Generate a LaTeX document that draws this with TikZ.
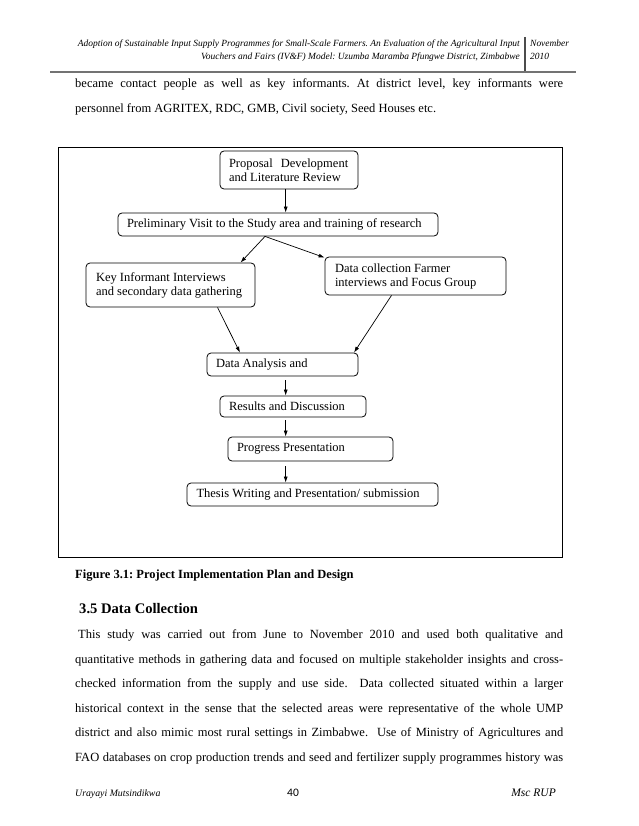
\documentclass[tikz,border=0pt]{standalone}
\usepackage{fontspec}
\setmainfont{Liberation Serif}
\newfontfamily\carl{Carlito}
\usetikzlibrary{arrows.meta}
\frenchspacing
\newcommand\bodyfs{\fontsize{12.5pt}{14pt}\selectfont}
\newcommand\hdfs{\fontsize{9.45pt}{11.5pt}\selectfont\itshape}
\newcommand\lb[2]{\makebox[#1][l]{#2}}
\newcommand\jl[1]{\makebox[488pt][s]{#1}}
\begin{document}
\begin{tikzpicture}[x=1pt,y=-1pt,
  fbox/.style={draw, rounded corners=4pt, line width=0.8pt, font=\bodyfs, align=left, inner ysep=0pt, anchor=center},
  arr/.style={-{Latex[length=6pt,width=4pt]}, line width=0.7pt},
  txt/.style={anchor=base west, inner sep=0pt, font=\bodyfs},
  hd/.style={inner sep=0pt, font=\hdfs}]
\useasboundingbox (0,0) rectangle (638,826);
\fill[white] (0,0) rectangle (638,826);
% header
\node[hd, anchor=base east] (h1) at (520,47) {Adoption of Sustainable Input Supply Programmes for Small-Scale Farmers. An Evaluation of the Agricultural Input};
\node[hd, anchor=base east] (h2) at (520,59.5) {Vouchers and Fairs (IV\&F) Model: Uzumba Maramba Pfungwe District, Zimbabwe};
\node[hd, anchor=base west] (h3) at (530,47) {November};
\node[hd, anchor=base west] (h4) at (530,59.5) {2010};
\draw[black!70, line width=1.2pt] (525,37) -- (525,73);
\draw[black!55, line width=2pt] (50,72) -- (576,72);
% body top
\node[txt] (t1) at (75,88) {\jl{became contact people as well as key informants. At district level, key informants were}};
\node[txt] (t2) at (75,112.5) {personnel from AGRITEX, RDC, GMB, Civil society, Seed Houses etc.};
% figure frame
\draw[line width=1.1pt] (58.3,147.3) rectangle (562.3,557.3);
% boxes
\node[fbox, minimum width=138pt, minimum height=38pt, inner xsep=9pt] (prop) at (289,170) {\lb{120pt}{Proposal\hspace{5pt} Development}\\\lb{120pt}{and Literature Review}};
\node[fbox, minimum width=320pt, minimum height=23pt, inner xsep=9pt] (prel) at (278,224.5) {\lb{302pt}{Preliminary Visit to the Study area and training of research}};
\node[fbox, minimum width=169pt, minimum height=44pt, inner xsep=10pt] (key) at (170.5,285) {\lb{149pt}{Key Informant Interviews}\\\lb{149pt}{and secondary data gathering}};
\node[fbox, minimum width=181pt, minimum height=38pt, inner xsep=10pt] (dc) at (415.5,276) {\lb{161pt}{Data collection Farmer}\\\lb{161pt}{interviews and Focus Group}};
\node[fbox, minimum width=151pt, minimum height=23pt, inner xsep=9pt] (da) at (282.5,364.5) {\lb{133pt}{Data Analysis and}};
\node[fbox, minimum width=146pt, minimum height=21pt, inner xsep=9pt] (res) at (293,406.5) {\lb{128pt}{Results and Discussion}};
\node[fbox, minimum width=165pt, minimum height=24pt, inner xsep=9pt] (prog) at (310.5,449) {\lb{147pt}{Progress Presentation}};
\node[fbox, minimum width=251pt, minimum height=23pt, inner xsep=9.5pt] (thes) at (312.5,494.5) {\lb{232pt}{Thesis Writing and Presentation/ submission}};
% arrows
\draw[arr] ([xshift=-3.3pt]prop.south) -- ([xshift=7.7pt]prel.north);
\draw[arr] ([xshift=-13pt]prel.south) -- ([xshift=70pt]key.north);
\draw[arr] ([xshift=-13pt]prel.south) -- ([yshift=-1pt]dc.north west);
\draw[arr] ([xshift=47pt]key.south) -- ([xshift=-42.5pt]da.north);
\draw[arr] ([xshift=-24pt]dc.south) -- ([xshift=71.5pt]da.north);
\draw[arr] ([xshift=3.2pt,yshift=-4pt]da.south) -- ([xshift=-7.3pt]res.north);
\draw[arr] ([xshift=-7.3pt,yshift=-3pt]res.south) -- ([xshift=-24.8pt]prog.north);
\draw[arr] ([xshift=-24.8pt,yshift=-5pt]prog.south) -- ([xshift=-26.8pt]thes.north);
% caption and heading
\node[txt, font=\bodyfs\bfseries] (cap) at (75,578) {Figure 3.1: Project Implementation Plan and Design};
\node[txt, font=\fontsize{14.6pt}{17pt}\selectfont\bfseries] (sec) at (79,613) {3.5 Data Collection};
% paragraph
\node[txt] (p1) at (75,638.5) {\jl{\hspace{3pt}This study was carried out from June to November 2010 and used both qualitative and}};
\node[txt] (p2) at (75,663) {\jl{quantitative methods in gathering data and focused on multiple stakeholder insights and cross-}};
\node[txt] (p3) at (75,687.5) {\jl{checked information from the supply and use side.\ \ Data collected situated within a larger}};
\node[txt] (p4) at (75,712) {\jl{historical context in the sense that the selected areas were representative of the whole UMP}};
\node[txt] (p5) at (75,736.5) {\jl{district and also mimic most rural settings in Zimbabwe.\ \ Use of Ministry of Agricultures and}};
\node[txt] (p6) at (75,761) {\jl{FAO databases on crop production trends and seed and fertilizer supply programmes history was}};
% footer
\node[anchor=base west, inner sep=0pt, font=\fontsize{9.8pt}{11pt}\selectfont\itshape] (f1) at (75,796) {Urayayi Mutsindikwa};
\node[anchor=base west, inner sep=0pt, font=\carl\fontsize{11.5pt}{13pt}\selectfont] (f2) at (287,796) {40};
\node[anchor=base east, inner sep=0pt, font=\fontsize{11.5pt}{13pt}\selectfont\itshape] (f3) at (556,796) {Msc RUP};
\end{tikzpicture}
\end{document}
